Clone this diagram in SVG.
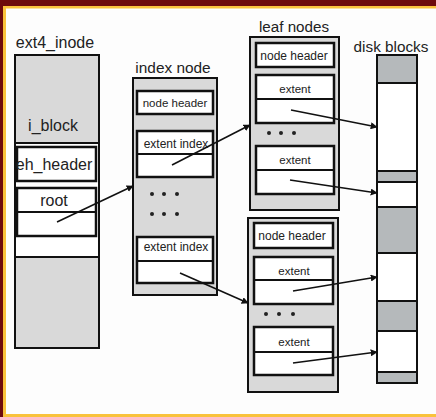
<svg xmlns="http://www.w3.org/2000/svg" width="436" height="417" viewBox="0 0 436 417">
<defs>
<style>
.t{font-family:"Liberation Sans",Arial,sans-serif;fill:#222;text-anchor:middle}
.box{fill:#d9d9d9;stroke:#111;stroke-width:2}
.cell{fill:#fff;stroke:#111;stroke-width:2.5}
.ln{stroke:#111;stroke-width:2;fill:none}
.dg{fill:#b5b9bb;stroke:#111;stroke-width:2}
.dw{fill:#fff;stroke:#111;stroke-width:2}
.dot{fill:#222}
.arr{stroke:#111;stroke-width:1.6;fill:none;marker-end:url(#ah)}
</style>
<marker id="ah" viewBox="0 0 10 10" refX="9" refY="5" markerWidth="7" markerHeight="7" orient="auto" markerUnits="userSpaceOnUse">
<path d="M0,0 L10,5 L0,10 z" fill="#111"/>
</marker>
</defs>
<rect x="0" y="0" width="436" height="417" fill="#fdfdfd"/>
<rect x="0" y="0" width="436" height="6" fill="#6d0a0c"/>
<rect x="0" y="0" width="3" height="417" fill="#6d0a0c"/>
<rect x="3" y="6" width="433" height="2.5" fill="#f9c23c"/>
<rect x="3" y="6" width="3" height="411" fill="#f9c23c"/>
<rect x="3" y="414" width="433" height="3" fill="#f9c23c"/>

<g id="ext4_inode">
<text class="t" x="55" y="48" font-size="16">ext4_inode</text>
<rect class="box" x="15" y="55" width="84" height="293"/>
<rect x="16" y="143" width="82" height="114" fill="#fff"/>
<line class="ln" x1="15" y1="143" x2="99" y2="143"/>
<line class="ln" x1="15" y1="257" x2="99" y2="257"/>
<text class="t" x="53" y="131" font-size="16">i_block</text>
<rect class="cell" x="17" y="147" width="79" height="34"/>
<text class="t" x="54" y="170" font-size="16">eh_header</text>
<rect class="cell" x="17" y="188" width="79" height="48"/>
<line class="ln" x1="17" y1="212" x2="96" y2="212"/>
<text class="t" x="54" y="206" font-size="16">root</text>
</g>

<g id="index_node">
<text class="t" x="173" y="73" font-size="15.4">index node</text>
<rect class="box" x="133" y="78" width="84" height="217"/>
<rect class="cell" x="137" y="91" width="76" height="23"/>
<text class="t" x="175" y="107" font-size="11.5">node header</text>
<rect class="cell" x="137" y="131" width="76" height="46"/>
<line class="ln" x1="137" y1="154" x2="213" y2="154"/>
<text class="t" x="176" y="148" font-size="12">extent index</text>
<circle class="dot" cx="152" cy="194" r="2"/><circle class="dot" cx="164" cy="194" r="2"/><circle class="dot" cx="177" cy="194" r="2"/>
<circle class="dot" cx="152" cy="214" r="2"/><circle class="dot" cx="164" cy="214" r="2"/><circle class="dot" cx="177" cy="214" r="2"/>
<rect class="cell" x="137" y="237" width="76" height="46"/>
<line class="ln" x1="137" y1="261" x2="213" y2="261"/>
<text class="t" x="176" y="251" font-size="12">extent index</text>
</g>

<g id="leaf_nodes_1">
<text class="t" x="294" y="32" font-size="15.2">leaf nodes</text>
<rect class="box" x="250" y="37" width="89" height="173"/>
<rect class="cell" x="256" y="43" width="78" height="24"/>
<text class="t" x="294" y="60" font-size="12">node header</text>
<rect class="cell" x="256" y="75" width="78" height="48"/>
<line class="ln" x1="256" y1="99" x2="334" y2="99"/>
<text class="t" x="295" y="93" font-size="11.5">extent</text>
<circle class="dot" cx="269" cy="133" r="2"/><circle class="dot" cx="281" cy="133" r="2"/><circle class="dot" cx="294" cy="133" r="2"/>
<rect class="cell" x="256" y="146" width="78" height="48"/>
<line class="ln" x1="256" y1="170" x2="334" y2="170"/>
<text class="t" x="295" y="164" font-size="11.5">extent</text>
</g>

<g id="leaf_nodes_2">
<rect class="box" x="248" y="218" width="90" height="174"/>
<rect class="cell" x="254" y="223" width="79" height="25"/>
<text class="t" x="292" y="240" font-size="12">node header</text>
<rect class="cell" x="254" y="257" width="79" height="47"/>
<line class="ln" x1="254" y1="280" x2="333" y2="280"/>
<text class="t" x="294" y="275" font-size="11.5">extent</text>
<circle class="dot" cx="266" cy="314" r="2"/><circle class="dot" cx="279" cy="314" r="2"/><circle class="dot" cx="293" cy="314" r="2"/>
<rect class="cell" x="254" y="327" width="79" height="48"/>
<line class="ln" x1="254" y1="352" x2="333" y2="352"/>
<text class="t" x="294" y="346" font-size="11.5">extent</text>
</g>

<g id="disk_blocks">
<text class="t" x="391" y="52" font-size="15.3">disk blocks</text>
<rect class="dg" x="377" y="55" width="40" height="28"/>
<rect class="dw" x="377" y="83" width="40" height="88"/>
<rect class="dg" x="377" y="171" width="40" height="11"/>
<rect class="dw" x="377" y="182" width="40" height="25"/>
<rect class="dg" x="377" y="207" width="40" height="46"/>
<rect class="dw" x="377" y="253" width="40" height="48"/>
<rect class="dg" x="377" y="301" width="40" height="30"/>
<rect class="dw" x="377" y="331" width="40" height="41"/>
<rect class="dg" x="377" y="372" width="40" height="11"/>
</g>

<g id="connectors">
<line class="arr" x1="57" y1="222" x2="133" y2="186"/>
<line class="arr" x1="172" y1="165" x2="250" y2="125"/>
<line class="arr" x1="180" y1="273" x2="248" y2="303"/>
<line class="arr" x1="291" y1="110" x2="377" y2="127"/>
<line class="arr" x1="290" y1="180" x2="377" y2="193"/>
<line class="arr" x1="293" y1="291" x2="377" y2="277"/>
<line class="arr" x1="293" y1="363" x2="377" y2="352"/>
</g>
</svg>
